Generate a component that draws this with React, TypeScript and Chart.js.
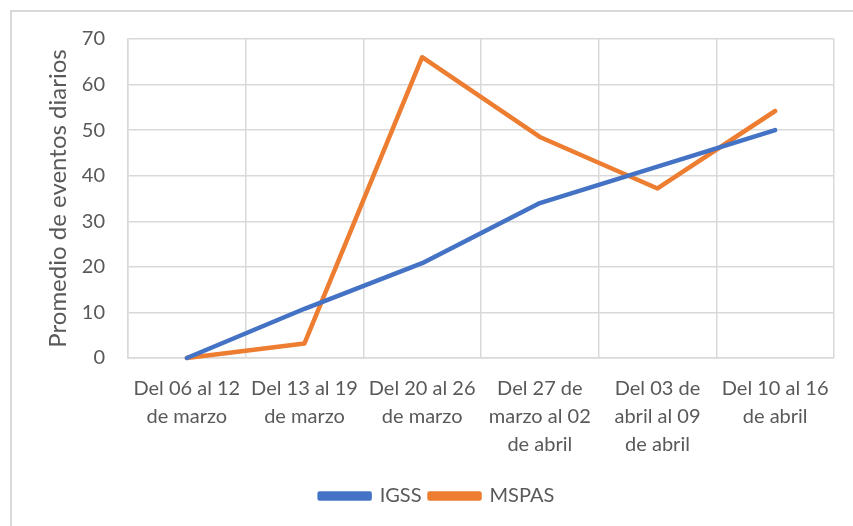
import React, { useEffect, useRef } from "react";
import { Chart, registerables } from "chart.js";

Chart.register(...registerables);

const categories: string[][] = [
  ["Del 06 al 12", "de marzo"],
  ["Del 13 al 19", "de marzo"],
  ["Del 20 al 26", "de marzo"],
  ["Del 27 de", "marzo al 02", "de abril"],
  ["Del 03 de", "abril al 09", "de abril"],
  ["Del 10 al 16", "de abril"],
];
const igss: number[] = [0, 10.8, 20.8, 34.0, 42.0, 50.0];
const mspas: number[] = [0, 3.2, 66.0, 48.5, 37.2, 54.2];
const yTitle = "Promedio de eventos diarios";

const FONT = "Lato";
const TEXT = "#595959";
const GRID = "#d9d9d9";

export default function App() {
  const ref = useRef<HTMLCanvasElement | null>(null);
  useEffect(() => {
    if (!ref.current) return;
    const chart = new Chart(ref.current, {
      type: "line",
      data: {
        labels: categories,
        datasets: [
          {
            label: "IGSS",
            data: igss,
            borderColor: "#4472C4",
            backgroundColor: "#4472C4",
            borderWidth: 4.5,
            pointRadius: 0,
            borderCapStyle: "round",
            borderJoinStyle: "round",
            tension: 0,
            clip: false,
          },
          {
            label: "MSPAS",
            data: mspas,
            borderColor: "#ED7D31",
            backgroundColor: "#ED7D31",
            borderWidth: 4.5,
            pointRadius: 0,
            borderCapStyle: "round",
            borderJoinStyle: "round",
            tension: 0,
            clip: false,
          },
        ],
      },
      options: {
        animation: false,
        responsive: false,
        maintainAspectRatio: false,
        layout: { padding: { left: 40, top: 39, right: 19, bottom: 10 } },
        plugins: {
          tooltip: { enabled: false },
          legend: {
            position: "bottom",
            labels: {
              boxWidth: 50,
              boxHeight: 5,
              padding: 8,
              color: TEXT,
              font: { family: FONT, size: 20 },
            },
          },
        },
        scales: {
          x: {
            offset: true,
            grid: { offset: true, color: GRID, lineWidth: 1.5, drawTicks: false },
            border: { color: GRID, width: 1.5 },
            ticks: {
              color: TEXT,
              font: { family: FONT, size: 20, lineHeight: 1.4 },
              padding: 17,
              maxRotation: 0,
              autoSkip: false,
            },
            afterFit: (s: any) => {
              s.height = 120;
            },
          },
          y: {
            min: 0,
            max: 70,
            grid: { color: GRID, lineWidth: 1.5, drawTicks: false },
            border: { color: GRID, width: 1.5 },
            ticks: {
              stepSize: 10,
              color: TEXT,
              font: { family: FONT, size: 20 },
              padding: 23,
            },
            title: {
              display: true,
              text: yTitle,
              color: TEXT,
              font: { family: FONT, size: 24 },
              padding: { top: 4, bottom: 0 },
            },
            afterFit: (s: any) => {
              s.width = 88;
            },
          },
        },
      },
    });
    return () => chart.destroy();
  }, []);
  return (
    <div style={{ position: "absolute", left: 0, top: 0, width: 853, height: 526, background: "#fff", overflow: "hidden" }}>
      <div
        style={{
          position: "absolute",
          left: 10,
          top: 10,
          width: 900,
          height: 600,
          borderLeft: "2px solid #d9d9d9",
          borderTop: "2px solid #d9d9d9",
        }}
      />
      <canvas ref={ref} width={853} height={526} style={{ position: "absolute", left: 0, top: 0 }} />
    </div>
  );
}
